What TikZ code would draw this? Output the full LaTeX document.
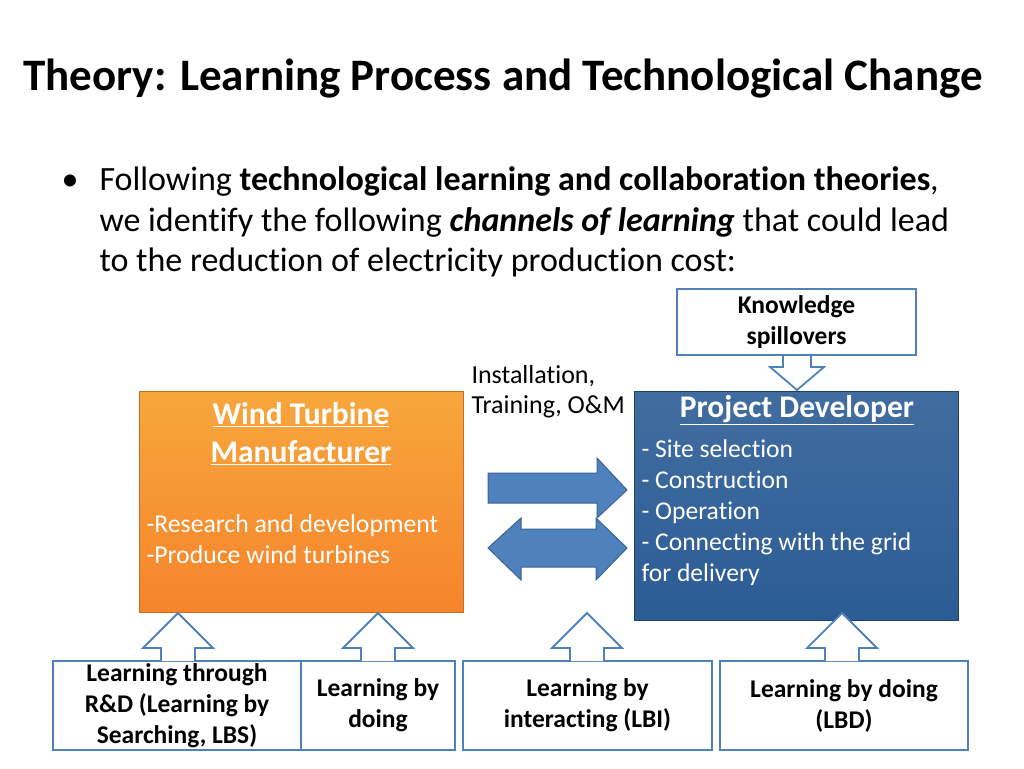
\documentclass[tikz,border=0pt]{standalone}
\usepackage{fontspec}
\setmainfont[Ligatures={NoCommon}]{Carlito}
\usepackage{xcolor}
\definecolor{bord}{HTML}{4F81BD}
\definecolor{dkblue}{HTML}{2C5C95}
\definecolor{orng}{HTML}{F58B2E}
\definecolor{arrowfill}{HTML}{4F81BD}
\definecolor{arrowline}{HTML}{3A6397}
\begin{document}
\begin{tikzpicture}[x=1pt,y=-1pt,
  wbox/.style={draw=bord,line width=1.8pt,fill=white,font=\fontsize{25.5}{31}\selectfont\bfseries,align=center,inner sep=0pt},
  hollow/.style={draw=bord,line width=1.8pt,fill=white,line join=miter},
  blockarr/.style={draw=arrowline,line width=1pt,fill=arrowfill},
  body/.style={font=\fontsize{34}{40}\selectfont,anchor=base west}]
\useasboundingbox (0,0) rectangle (1024,768);
\node[font=\fontsize{45}{50}\selectfont\bfseries,anchor=base] (title) at (503,90) {Theory: Learning Process and Technological Change};
\node[body] (bul) at (58,190) {\textbullet};
\node[body] (l1) at (96,190) {Following \textbf{technological learning and collaboration theories},};
\node[body] (l2) at (96,231) {we identify the following \textbf{\itshape channels of learning} that could lead};
\node[body] (l3) at (96,271) {to the reduction of electricity production cost:};
% knowledge spillovers
\node[wbox,minimum width=239pt,minimum height=66pt] (ks) at (796.5,322) {Knowledge\\spillovers};
\draw[hollow] (783,356) -- (783,367) -- (770,367) -- (797,390) -- (824,367) -- (811,367) -- (811,356);
% orange box
\shade[top color=orng!85!yellow!90!white,bottom color=orng!95!red,draw=orng!80!black,line width=0.8pt] (139,391) rectangle (463,612);
\node[draw=none,minimum width=324pt,minimum height=221pt] (wtm) at (301,501.5) {};
\node[font=\fontsize{31.5}{38}\selectfont\bfseries,text=white,align=center,anchor=north] (wtmt) at (301,399) {\underline{Wind Turbine}\\\underline{Manufacturer}};
\node[font=\fontsize{25.7}{31}\selectfont,text=white,align=left,anchor=north west] (wtml) at (143,511) {-Research and development\\-Produce wind turbines};
% project developer
\shade[top color=dkblue!90!white,bottom color=dkblue,draw=dkblue!70!black,line width=0.8pt] (634,391) rectangle (958,620);
\node[draw=none,minimum width=324pt,minimum height=229pt] (pd) at (796,505.5) {};
\node[font=\fontsize{31.5}{36}\selectfont\bfseries,text=white,anchor=north] (pdt) at (797,392) {\underline{Project Developer}};
\node[font=\fontsize{25.6}{31}\selectfont,text=white,align=left,anchor=north west] (pdl) at (638,436) {- Site selection\\- Construction\\- Operation\\- Connecting with the grid\\for delivery};
% label
\node[font=\fontsize{26}{30}\selectfont,align=left,anchor=north west] (inst) at (468,362) {Installation,\\Training, O\&M};
% arrows
\draw[blockarr] (488,473) -- (597,473) -- (597,458) -- (627,490) -- (597,518) -- (597,503) -- (488,503) -- cycle;
\draw[blockarr] (488,548) -- (521,518) -- (521,529) -- (596,529) -- (596,518) -- (627,548) -- (596,580) -- (596,567) -- (521,567) -- (521,580) -- cycle;
% bottom boxes
\node[wbox,minimum width=248pt,minimum height=89pt] (b1) at (177,705.5) {Learning through\\R\&D (Learning by\\Searching, LBS)};
\node[wbox,minimum width=154pt,minimum height=89pt] (b2) at (378,705.5) {Learning by\\doing};
\node[wbox,minimum width=249pt,minimum height=89pt] (b3) at (587.5,705.5) {Learning by\\interacting (LBI)};
\node[wbox,minimum width=248pt,minimum height=89pt] (b4) at (844,705.5) {Learning by doing\\(LBD)};
% up arrows
\foreach \cx/\top in {178/613,378/613,587/613,842/613}{
  \draw[hollow] (\cx-17,661) -- (\cx-17,648) -- (\cx-35,648) -- (\cx,\top) -- (\cx+35,648) -- (\cx+17,648) -- (\cx+17,661);
}
\end{tikzpicture}
\end{document}
